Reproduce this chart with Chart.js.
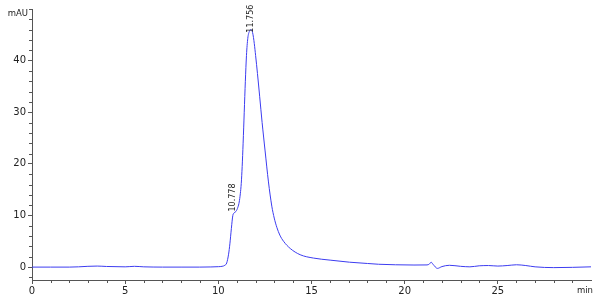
<!DOCTYPE html>
<html>
<head>
<meta charset="utf-8">
<script src="https://cdn.jsdelivr.net/npm/chart.js@4"></script>
<style>
html,body{margin:0;padding:0;background:#fff;}
canvas{display:block;}
</style>
</head>
<body>
<canvas id="c" width="600" height="304"></canvas>
<script>
// Retention time (min)
const times = [0, 1, 2, 2.5, 3, 3.5, 4, 5, 5.5, 6, 7, 8, 9, 9.6, 10.0, 10.2, 10.35, 10.45, 10.55, 10.62, 10.7, 10.778, 10.85, 10.95, 11.05, 11.12, 11.18, 11.23, 11.28, 11.33, 11.39, 11.45, 11.51, 11.58, 11.67, 11.756, 11.84, 11.93, 12.0, 12.1, 12.22, 12.35, 12.51, 12.69, 12.87, 13.0, 13.14, 13.3, 13.5, 13.86, 14.39, 15.1, 16.0, 17.04, 18.0, 18.6, 19.5, 20.5, 21.2, 21.33, 21.42, 21.52, 21.76, 22.0, 22.4, 23.0, 23.5, 24.0, 24.5, 25.0, 25.5, 26.0, 26.5, 27.0, 28.0, 29.0, 30.0];
// Absorbance (mAU)
const signal = [0, 0, 0, 0.05, 0.15, 0.2, 0.12, 0.05, 0.15, 0.05, 0, 0, 0, 0.03, 0.08, 0.15, 0.35, 0.8, 2.5, 4.5, 7.5, 10.0, 10.5, 10.8, 11.6, 12.6, 14.2, 16.2, 19.5, 24.0, 30.0, 36.0, 41.0, 44.3, 45.7, 46.0, 45.4, 43.3, 41.0, 37.5, 33.0, 28.0, 22.5, 16.5, 11.8, 9.5, 7.7, 6.2, 5.0, 3.6, 2.4, 1.75, 1.35, 0.95, 0.7, 0.55, 0.45, 0.4, 0.42, 0.6, 0.95, 0.55, -0.25, 0.1, 0.35, 0.15, 0.05, 0.25, 0.3, 0.2, 0.3, 0.45, 0.3, 0.05, -0.1, -0.05, 0.05];

const xTicks = [0, 5, 10, 15, 20, 25];
const yTicks = [0, 10, 20, 30, 40];
const xMinorTicks = [1,2,3,4,6,7,8,9,11,12,13,14,16,17,18,19,21,22,23,24,26,27,28,29];
const yMinorTicks = [-2,2,4,6,8,12,14,16,18,22,24,26,28,32,34,36,38,42,44,46,48,50];

const peakTimes = [10.778, 11.756];
const peakValues = [10.0, 46.0];
const peakLabels = ['10.778', '11.756'];

const axisColor = '#555';
const textColor = '#222';

const decorPlugin = {
  id: 'decor',
  afterDraw(chart) {
    const ctx = chart.ctx;
    const xs = chart.scales.x, ys = chart.scales.y;
    const area = chart.chartArea;
    ctx.save();
    ctx.strokeStyle = axisColor;
    ctx.lineWidth = 1;
    ctx.beginPath();
    for (const v of xMinorTicks) {
      const px = Math.round(xs.getPixelForValue(v)) + 0.5;
      ctx.moveTo(px, area.bottom);
      ctx.lineTo(px, area.bottom + 3);
    }
    for (const v of yMinorTicks) {
      const py = Math.round(ys.getPixelForValue(v)) + 0.5;
      ctx.moveTo(area.left, py);
      ctx.lineTo(area.left - 3, py);
    }
    ctx.stroke();

    ctx.fillStyle = textColor;
    ctx.font = '8.5px "DejaVu Sans"';
    ctx.textBaseline = 'middle';
    ctx.textAlign = 'right';
    ctx.fillText('mAU', area.left - 4, 14);
    ctx.fillText('min', 593, 291);

    ctx.font = '8px "DejaVu Sans"';
    const offs = [-4, 3];
    for (let i = 0; i < peakTimes.length; i++) {
      const px = xs.getPixelForValue(peakTimes[i]);
      const py = ys.getPixelForValue(peakValues[i]);
      ctx.save();
      ctx.translate(px, py + offs[i]);
      ctx.rotate(-Math.PI / 2);
      ctx.textAlign = 'left';
      ctx.textBaseline = 'middle';
      ctx.fillText(peakLabels[i], 0, 0);
      ctx.restore();
    }
    ctx.restore();
  }
};

new Chart(document.getElementById('c'), {
  type: 'line',
  data: {
    datasets: [{
      data: times.map((t, i) => ({x: t, y: signal[i]})),
      borderColor: '#3c3cf0',
      borderWidth: 1,
      pointRadius: 0,
      fill: false,
      cubicInterpolationMode: 'monotone'
    }]
  },
  options: {
    responsive: false,
    animation: false,
    devicePixelRatio: 1,
    layout: {padding: {top: 9, right: 9, left: 0, bottom: 0}},
    plugins: {legend: {display: false}, tooltip: {enabled: false}},
    scales: {
      x: {
        type: 'linear', min: 0, max: 30,
        afterBuildTicks: s => { s.ticks = xTicks.map(v => ({value: v})); },
        afterFit: s => { s.height = 24; },
        grid: {display: true, drawOnChartArea: false, drawTicks: true, tickLength: 4, color: axisColor},
        border: {display: true, color: axisColor},
        ticks: {color: textColor, font: {family: 'DejaVu Sans', size: 10}, padding: 1, maxRotation: 0}
      },
      y: {
        type: 'linear', min: -2.5, max: 50,
        afterBuildTicks: s => { s.ticks = yTicks.map(v => ({value: v})); },
        afterFit: s => { s.width = 32; },
        grid: {display: true, drawOnChartArea: false, drawTicks: true, tickLength: 4, color: axisColor},
        border: {display: true, color: axisColor},
        ticks: {color: textColor, font: {family: 'DejaVu Sans', size: 10}, padding: 2}
      }
    }
  },
  plugins: [decorPlugin]
});
</script>
</body>
</html>
